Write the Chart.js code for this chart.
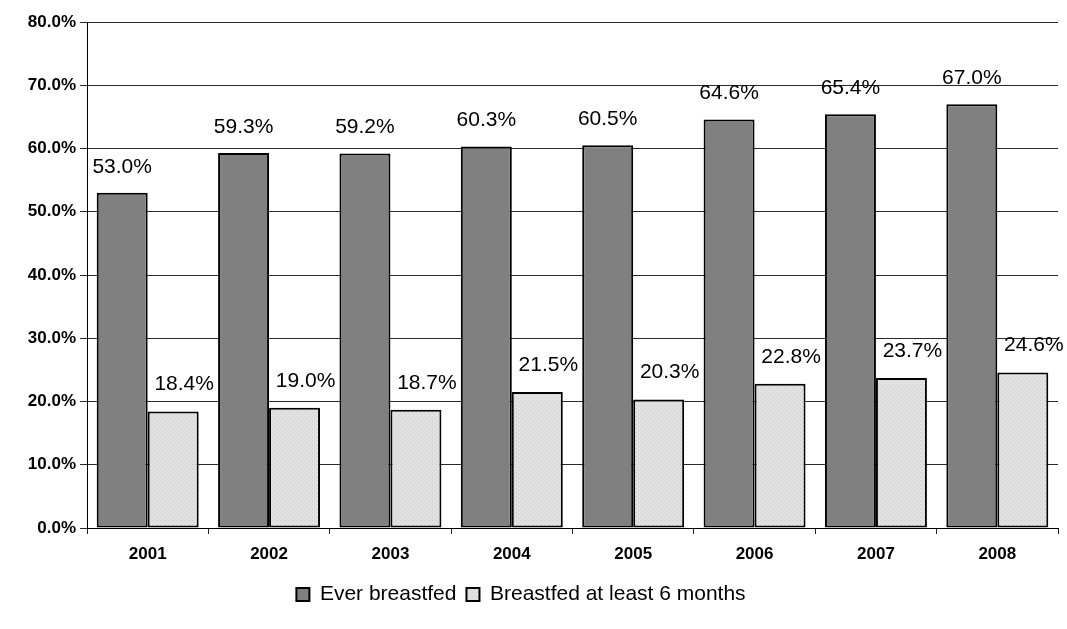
<!DOCTYPE html>
<html>
<head>
<meta charset="utf-8">
<script src="https://cdn.jsdelivr.net/npm/chart.js@4/dist/chart.umd.min.js"></script>
<style>
	html, body { margin: 0; padding: 0; background: #ffffff; }
	#wrap { width: 1067px; height: 629px; position: relative; }
</style>
</head>
<body>
<div id="wrap"><canvas id="myChart"></canvas></div>
<script>
// data
const years = ["2001", "2002", "2003", "2004", "2005", "2006", "2007", "2008"];
const everBreastfed = [53.0, 59.3, 59.2, 60.3, 60.5, 64.6, 65.4, 67.0];
const sixMonths = [18.4, 19.0, 18.7, 21.5, 20.3, 22.8, 23.7, 24.6];
const seriesNames = ["Ever breastfed", "Breastfed at least 6 months"];

const fontFamily = "'Liberation Sans', Arial, sans-serif";

// stippled light grey fill like the original
function makeDots() {
	const c = document.createElement("canvas");
	c.width = 4;
	c.height = 4;
	const g = c.getContext("2d");
	g.fillStyle = "#e2e2e2";
	g.fillRect(0, 0, 4, 4);
	g.fillStyle = "#cacaca";
	g.fillRect(0, 0, 1, 1);
	g.fillRect(2, 2, 1, 1);
	return g.createPattern(c, "repeat");
}

// value labels above the bars
const valueLabels = {
	id: "valueLabels",
	afterDatasetsDraw(chart) {
		const ctx = chart.ctx;
		ctx.save();
		ctx.font = "21px " + fontFamily;
		ctx.fillStyle = "#000000";
		ctx.textAlign = "center";
		ctx.textBaseline = "middle";
		chart.data.datasets.forEach((ds, di) => {
			const meta = chart.getDatasetMeta(di);
			meta.data.forEach((bar, i) => {
				const dx = di === 1 ? 11 : 0;
				const dy = di === 1 ? 27 : 26;
				ctx.fillText(ds.data[i].toFixed(1) + "%", bar.x + dx, bar.y - dy);
			});
		});
		ctx.restore();
	},
};

// nudge the legend a bit left, the original is not centred on the page
const legendNudge = {
	id: "legendNudge",
	afterLayout(chart) {
		if (chart.legend) {
			chart.legend.left -= 8;
			chart.legend.right -= 8;
		}
	},
};

const ctx = document.getElementById("myChart").getContext("2d");
const chart = new Chart(ctx, {
	type: "bar",
	data: {
		labels: years,
		datasets: [
			{
				label: seriesNames[0],
				data: everBreastfed,
				backgroundColor: "#808080",
				borderColor: "#000000",
				borderWidth: 2,
				borderSkipped: false,
				categoryPercentage: 0.84,
				barPercentage: 1.0,
			},
			{
				label: seriesNames[1],
				data: sixMonths,
				backgroundColor: makeDots(),
				borderColor: "#000000",
				borderWidth: 2,
				borderSkipped: false,
				categoryPercentage: 0.84,
				barPercentage: 1.0,
			},
		],
	},
	options: {
		responsive: true,
		maintainAspectRatio: false,
		animation: false,
		layout: {
			padding: { top: 22, right: 9, left: 0, bottom: 14 },
		},
		scales: {
			x: {
				afterFit: (scale) => {
					scale.height = 46;
				},
				border: { color: "#000000", width: 1 },
				grid: {
					drawOnChartArea: false,
					tickLength: 6,
					color: "#222222",
				},
				ticks: {
					color: "#000000",
					padding: 10,
					font: { size: 17, weight: "bold", family: fontFamily },
				},
			},
			y: {
				min: 0,
				max: 80,
				afterFit: (scale) => {
					scale.width = 87;
				},
				border: { color: "#000000", width: 1 },
				grid: {
					color: "#2a2a2a",
					tickLength: 7,
				},
				ticks: {
					stepSize: 10,
					color: "#000000",
					padding: 4,
					font: { size: 17, weight: "bold", family: fontFamily },
					callback: (v) => v.toFixed(1) + "%",
				},
			},
		},
		plugins: {
			legend: {
				position: "bottom",
				labels: {
					boxWidth: 13,
					boxHeight: 13,
					padding: 10,
					color: "#000000",
					font: { size: 21, family: fontFamily },
				},
			},
			tooltip: { enabled: false },
		},
	},
	plugins: [valueLabels, legendNudge],
});
</script>
</body>
</html>
